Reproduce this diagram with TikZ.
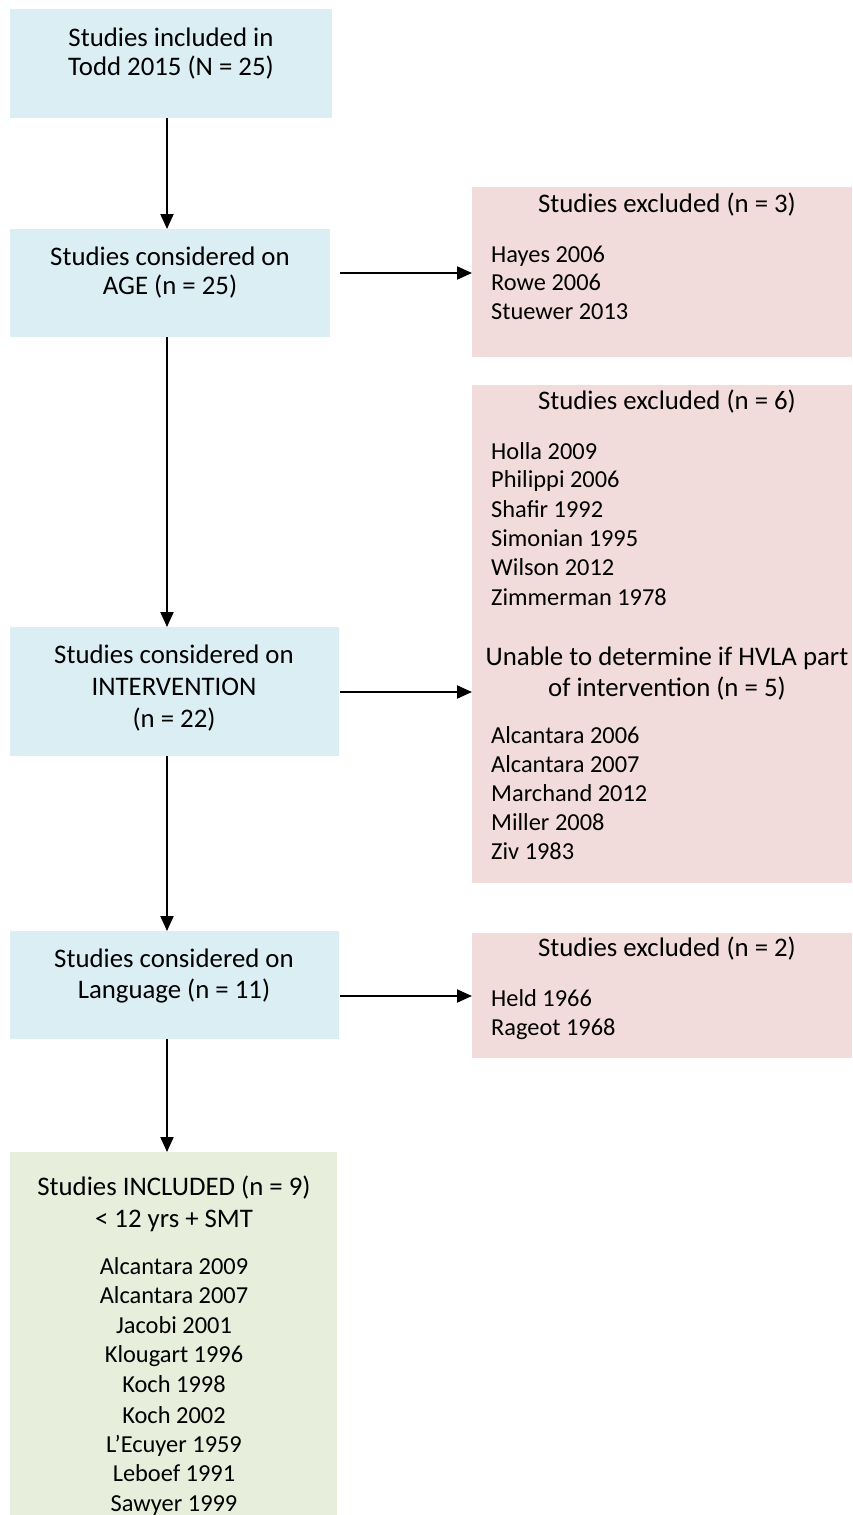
\documentclass[tikz,border=0pt]{standalone}
\usepackage{fontspec}
\setmainfont{Carlito}
\usetikzlibrary{arrows.meta}
\definecolor{bluebox}{HTML}{DAEEF3}
\definecolor{redbox}{HTML}{F2DCDB}
\definecolor{greenbox}{HTML}{E8EEDC}
\begin{document}
\begin{tikzpicture}[x=1pt,y=-1pt,
  box/.style={draw=none, inner sep=0pt, anchor=north west},
  txt/.style={inner sep=0pt, font=\fontsize{26.8}{30}\selectfont, anchor=base, yshift=-8pt},
  itm/.style={inner sep=0pt, font=\fontsize{24.4}{28}\selectfont, anchor=base, yshift=-8pt},
  ltxt/.style={itm, anchor=base west},
  arr/.style={line width=2pt, -{Triangle[width=13pt,length=15pt]}}]
\useasboundingbox (0,0) rectangle (853,1515);
% boxes
\node[box, fill=bluebox, minimum width=322pt, minimum height=109pt] (b1) at (10,9) {};
\node[box, fill=bluebox, minimum width=320pt, minimum height=108pt] (b2) at (10,229) {};
\node[box, fill=bluebox, minimum width=329pt, minimum height=129pt] (b3) at (10,627) {};
\node[box, fill=bluebox, minimum width=329pt, minimum height=108pt] (b4) at (10,931) {};
\node[box, fill=greenbox, minimum width=327pt, minimum height=363pt] (g) at (10,1152) {};
\node[box, fill=redbox, minimum width=380pt, minimum height=170pt] (r1) at (472,187) {};
\node[box, fill=redbox, minimum width=380pt, minimum height=498pt] (r2) at (472,385) {};
\node[box, fill=redbox, minimum width=380pt, minimum height=125pt] (r3) at (472,933) {};
% texts
\node[txt] (t1a) at (171,38) {Studies included in};
\node[txt] (t1b) at (171,67) {Todd 2015 (N = 25)};
\node[txt] (t2a) at (170,257) {Studies considered on};
\node[txt] (t2b) at (170,286) {AGE (n = 25)};
\node[txt] (t3a) at (174,655) {Studies considered on};
\node[txt] (t3b) at (174,687) {INTERVENTION};
\node[txt] (t3c) at (174,719) {(n = 22)};
\node[txt] (t4a) at (174,959) {Studies considered on};
\node[txt] (t4b) at (174,990) {Language (n = 11)};
\node[txt] (gta) at (174,1187) {Studies INCLUDED (n = 9)};
\node[txt] (gtb) at (174,1219) {< 12 yrs + SMT};
\foreach \t [count=\i] /\yy in {Alcantara 2009/1266, Alcantara 2007/1295, Jacobi 2001/1325, Klougart 1996/1354, Koch 1998/1384, Koch 2002/1415, L’Ecuyer 1959/1444, Leboef 1991/1473, Sawyer 1999/1503}
  \node[itm] (gi\i) at (174,\yy) {\t};
% red 1
\node[txt] (r1t) at (667,204) {Studies excluded (n = 3)};
\foreach \t [count=\i] /\yy in {Hayes 2006/254, Rowe 2006/282, Stuewer 2013/311}
  \node[ltxt] (r1i\i) at (491,\yy) {\t};
% red 2
\node[txt] (r2t) at (667,401) {Studies excluded (n = 6)};
\foreach \t [count=\i] /\yy in {Holla 2009/451, Philippi 2006/479, Shafir 1992/509, Simonian 1995/538, Wilson 2012/567, Zimmerman 1978/597}
  \node[ltxt] (r2i\i) at (491,\yy) {\t};
\node[txt] (r2u) at (667,657) {Unable to determine if HVLA part};
\node[txt] (r2v) at (667,688) {of intervention (n = 5)};
\foreach \t [count=\i] /\yy in {Alcantara 2006/735, Alcantara 2007/764, Marchand 2012/793, Miller 2008/822, Ziv 1983/851}
  \node[ltxt] (r2j\i) at (491,\yy) {\t};
% red 3
\node[txt] (r3t) at (667,948) {Studies excluded (n = 2)};
\foreach \t [count=\i] /\yy in {Held 1966/998, Rageot 1968/1027}
  \node[ltxt] (r3i\i) at (491,\yy) {\t};
% arrows
\coordinate (ax) at (167,0);
\draw[arr] (b1.south -| ax) -- (b2.north -| ax);
\draw[arr] (b2.south -| ax) -- (b3.north -| ax);
\draw[arr] (b3.south -| ax) -- (b4.north -| ax);
\draw[arr] (b4.south -| ax) -- (g.north -| ax);
\coordinate (s1) at (340,273);
\coordinate (s2) at (340,692);
\coordinate (s3) at (340,996);
\draw[arr] (s1) -- (s1 -| r1.west);
\draw[arr] (s2) -- (s2 -| r2.west);
\draw[arr] (s3) -- (s3 -| r3.west);
\end{tikzpicture}
\end{document}
